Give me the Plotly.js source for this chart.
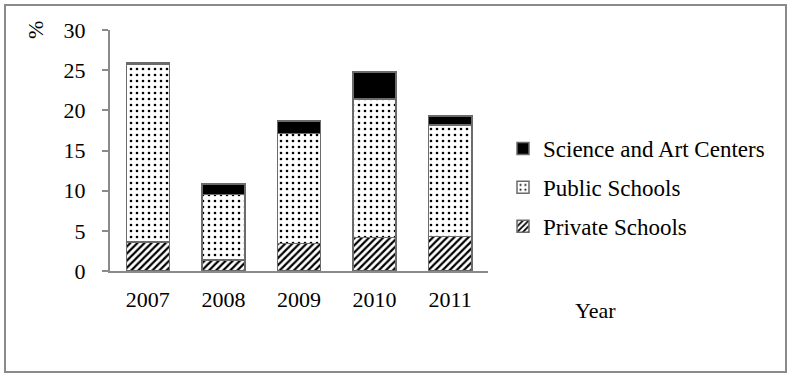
<!DOCTYPE html>
<html>
<head>
<meta charset="utf-8">
<script src="https://cdn.plot.ly/plotly-3.0.1.min.js"></script>
<style>
  html, body { margin: 0; padding: 0; background: #fff; }
  #chart { width: 791px; height: 378px; }
</style>
</head>
<body>
<div id="chart"></div>
<script>
const years = ['2007', '2008', '2009', '2010', '2011'];
const privateSchools = [3.6, 1.4, 3.4, 4.2, 4.3];
const publicSchools = [22.1, 8.1, 13.7, 17.2, 13.9];
const scienceArtCenters = [0.2, 1.3, 1.6, 3.4, 1.1];

const W = 791, H = 378;
const M = { l: 110, r: 303, t: 30, b: 107 };
const PW = W - M.l - M.r, PH = H - M.t - M.b;
const px = x => (x - M.l) / PW;
const py = y => (H - M.b - y) / PH;

const FONT = '"Liberation Serif", "Times New Roman", serif';
const lineCol = '#6b6b6b';

const traces = [
  {
    type: 'bar', name: 'Private Schools', x: years, y: privateSchools,
    legendgroup: 'c', legendrank: 3,
    marker: {
      color: '#ffffff',
      line: { color: lineCol, width: 1.5 },
      pattern: { shape: '/', fgcolor: '#000000', bgcolor: '#ffffff', size: 5, solidity: 0.45 }
    }
  },
  {
    type: 'bar', name: 'Public Schools', x: years, y: publicSchools,
    legendgroup: 'b', legendrank: 2,
    marker: {
      color: '#ffffff',
      line: { color: lineCol, width: 1.5 },
      pattern: { shape: '.', fgcolor: '#000000', bgcolor: '#ffffff', size: 6, solidity: 0.15 }
    }
  },
  {
    type: 'bar', name: 'Science and Art Centers', x: years, y: scienceArtCenters,
    legendgroup: 'a', legendrank: 1,
    marker: { color: '#000000', line: { color: lineCol, width: 1.5 } }
  }
];

const frame = { color: '#8a8a8a', width: 2 };
const layout = {
  width: W, height: H,
  margin: M,
  paper_bgcolor: '#ffffff', plot_bgcolor: '#ffffff',
  barmode: 'stack', bargap: 0.43,
  font: { family: FONT, size: 22, color: '#000000' },
  showlegend: true,
  legend: {
    x: px(503), xanchor: 'left', y: py(127), yanchor: 'top',
    traceorder: 'grouped', tracegroupgap: 6,
    font: { family: FONT, size: 23, color: '#000' },
    bgcolor: 'rgba(0,0,0,0)'
  },
  xaxis: {
    type: 'category', showline: true, linecolor: '#8a8a8a', linewidth: 2,
    ticks: '', showgrid: false, zeroline: false,
    tickfont: { family: FONT, size: 22 }, ticklabelstandoff: 8
  },
  yaxis: {
    range: [0, 30], dtick: 5, tick0: 0, showline: true, linecolor: '#8a8a8a', linewidth: 2,
    ticks: 'outside', ticklen: 6, tickcolor: '#8a8a8a', tickwidth: 2,
    showgrid: false, zeroline: false,
    tickfont: { family: FONT, size: 22 }, ticklabelstandoff: 12
  },
  annotations: [
    { text: '%', xref: 'paper', yref: 'paper', x: px(35), y: py(30), textangle: -90,
      showarrow: false, xanchor: 'center', yanchor: 'middle', font: { family: FONT, size: 22 } },
    { text: 'Year', xref: 'paper', yref: 'paper', x: px(595), y: py(310),
      showarrow: false, xanchor: 'center', yanchor: 'middle', font: { family: FONT, size: 22 } }
  ],
  shapes: [
    { type: 'rect', xref: 'paper', yref: 'paper', x0: px(5), x1: px(786), y0: py(372), y1: py(5),
      line: frame, fillcolor: 'rgba(0,0,0,0)', layer: 'below' }
  ]
};

Plotly.newPlot('chart', traces, layout, { displayModeBar: false, staticPlot: true });
</script>
</body>
</html>
